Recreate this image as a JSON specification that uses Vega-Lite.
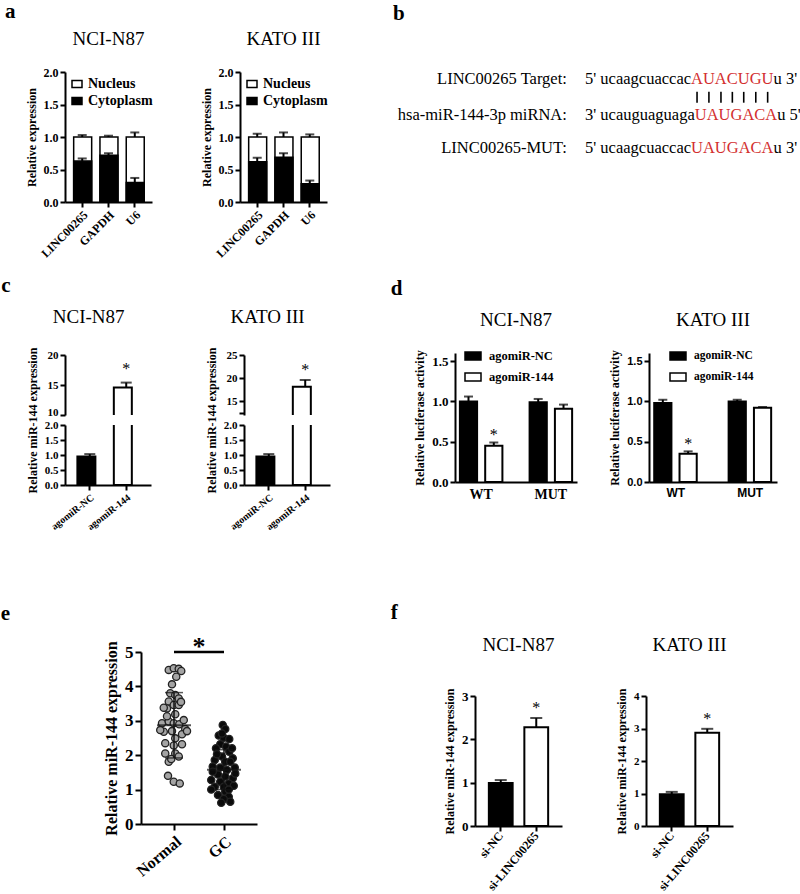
{
"$schema": "https://vega.github.io/schema/vega-lite/v6.json",
"background": "white",
"padding": {"left": 0, "top": 1, "right": 0, "bottom": 0},
"config": {
  "font": "Liberation Serif",
  "view": {"stroke": null},
  "axis": {"grid": false, "domainColor": "black", "domainWidth": 2, "tickColor": "black", "tickWidth": 2, "tickSize": 5, "labelColor": "black", "labelFont": "Liberation Serif", "labelFontWeight": "bold", "labelFontSize": 12, "titleColor": "black", "titleFont": "Liberation Serif", "titleFontWeight": "bold", "titleFontSize": 12, "labelPadding": 2, "titlePadding": 5, "labelOverlap": false},
  "title": {"font": "Liberation Serif", "fontWeight": "normal", "fontSize": 19, "color": "black", "anchor": "middle"},
  "legend": {"labelFont": "Liberation Serif", "labelFontWeight": "bold", "labelColor": "black"}
},
"spacing": 57,
"resolve": {"scale": {"color": "independent"}, "legend": {"color": "independent"}},
"hconcat": [
 {
  "spacing": 70,
  "resolve": {"scale": {"color": "independent"}, "legend": {"color": "independent"}},
  "vconcat": [
   {
    "spacing": 15,
    "resolve": {"scale": {"color": "independent"}, "legend": {"color": "independent"}},
    "vconcat": [
     {
      "title": {"text": "a", "anchor": "start", "frame": "bounds", "fontSize": 21, "fontWeight": "bold", "dx": -20, "offset": 8},
      "spacing": 47,
      "resolve": {"scale": {"color": "independent"}, "legend": {"color": "independent"}},
      "hconcat": [
       {
        "title": {"text": "NCI-N87", "offset": 17},
        "width": 87, "height": 130,
        "data": {"values": [
          {"gene": "LINC00265", "cyto": 0.63, "cyto_err": 0.67, "total": 1.0, "total_err": 1.03},
          {"gene": "GAPDH", "cyto": 0.72, "cyto_err": 0.75, "total": 1.0, "total_err": 1.02},
          {"gene": "U6", "cyto": 0.30, "cyto_err": 0.37, "total": 1.0, "total_err": 1.07}
        ]},
        "encoding": {"x": {"field": "gene", "type": "nominal", "sort": null, "scale": {"paddingInner": 0.35, "paddingOuter": 0.33}, "axis": {"title": null, "labelAngle": -45, "labelFontSize": 12}}},
        "layer": [
          {"mark": {"type": "bar", "stroke": "black", "strokeWidth": 1.5}, "encoding": {"y": {"field": "total", "type": "quantitative", "scale": {"domain": [0, 2]}, "axis": {"title": "Relative expression", "values": [0, 0.5, 1, 1.5, 2], "format": ".1f"}}, "color": {"datum": "Nucleus", "scale": {"domain": ["Nucleus", "Cytoplasm"], "range": ["white", "black"]}, "legend": {"orient": "top-left", "offset": 5, "title": null, "symbolType": "M-1,-0.7H1V0.7H-1Z", "symbolSize": 100, "labelFontSize": 14, "labelOffset": 4, "symbolStrokeColor": "black", "symbolStrokeWidth": 1.5, "rowPadding": 3}}}},
          {"mark": {"type": "rule", "color": "black", "strokeWidth": 2}, "encoding": {"y": {"field": "total", "type": "quantitative", "axis": {"title": "Relative expression", "values": [0, 0.5, 1, 1.5, 2], "format": ".1f"}}, "y2": {"field": "total_err"}}},
          {"mark": {"type": "tick", "color": "black", "thickness": 2, "size": 9}, "encoding": {"y": {"field": "total_err", "type": "quantitative", "axis": {"title": "Relative expression", "values": [0, 0.5, 1, 1.5, 2], "format": ".1f"}}}},
          {"mark": {"type": "bar", "stroke": "black", "strokeWidth": 1.5}, "encoding": {"y": {"field": "cyto", "type": "quantitative", "axis": {"title": "Relative expression", "values": [0, 0.5, 1, 1.5, 2], "format": ".1f"}}, "color": {"datum": "Cytoplasm"}}},
          {"mark": {"type": "rule", "color": "black", "strokeWidth": 2}, "encoding": {"y": {"field": "cyto", "type": "quantitative", "axis": {"title": "Relative expression", "values": [0, 0.5, 1, 1.5, 2], "format": ".1f"}}, "y2": {"field": "cyto_err"}}},
          {"mark": {"type": "tick", "color": "black", "thickness": 2, "size": 9}, "encoding": {"y": {"field": "cyto_err", "type": "quantitative", "axis": {"title": "Relative expression", "values": [0, 0.5, 1, 1.5, 2], "format": ".1f"}}}}
        ]
       },
       {
        "title": {"text": "KATO III", "offset": 17},
        "width": 87, "height": 130,
        "data": {"values": [
          {"gene": "LINC00265", "cyto": 0.62, "cyto_err": 0.68, "total": 1.0, "total_err": 1.05},
          {"gene": "GAPDH", "cyto": 0.69, "cyto_err": 0.75, "total": 1.0, "total_err": 1.07},
          {"gene": "U6", "cyto": 0.28, "cyto_err": 0.33, "total": 1.0, "total_err": 1.04}
        ]},
        "encoding": {"x": {"field": "gene", "type": "nominal", "sort": null, "scale": {"paddingInner": 0.35, "paddingOuter": 0.33}, "axis": {"title": null, "labelAngle": -45, "labelFontSize": 12}}},
        "layer": [
          {"mark": {"type": "bar", "stroke": "black", "strokeWidth": 1.5}, "encoding": {"y": {"field": "total", "type": "quantitative", "scale": {"domain": [0, 2]}, "axis": {"title": "Relative expression", "values": [0, 0.5, 1, 1.5, 2], "format": ".1f"}}, "color": {"datum": "Nucleus", "scale": {"domain": ["Nucleus", "Cytoplasm"], "range": ["white", "black"]}, "legend": {"orient": "top-left", "offset": 5, "title": null, "symbolType": "M-1,-0.7H1V0.7H-1Z", "symbolSize": 100, "labelFontSize": 14, "labelOffset": 4, "symbolStrokeColor": "black", "symbolStrokeWidth": 1.5, "rowPadding": 3}}}},
          {"mark": {"type": "rule", "color": "black", "strokeWidth": 2}, "encoding": {"y": {"field": "total", "type": "quantitative", "axis": {"title": "Relative expression", "values": [0, 0.5, 1, 1.5, 2], "format": ".1f"}}, "y2": {"field": "total_err"}}},
          {"mark": {"type": "tick", "color": "black", "thickness": 2, "size": 9}, "encoding": {"y": {"field": "total_err", "type": "quantitative", "axis": {"title": "Relative expression", "values": [0, 0.5, 1, 1.5, 2], "format": ".1f"}}}},
          {"mark": {"type": "bar", "stroke": "black", "strokeWidth": 1.5}, "encoding": {"y": {"field": "cyto", "type": "quantitative", "axis": {"title": "Relative expression", "values": [0, 0.5, 1, 1.5, 2], "format": ".1f"}}, "color": {"datum": "Cytoplasm"}}},
          {"mark": {"type": "rule", "color": "black", "strokeWidth": 2}, "encoding": {"y": {"field": "cyto", "type": "quantitative", "axis": {"title": "Relative expression", "values": [0, 0.5, 1, 1.5, 2], "format": ".1f"}}, "y2": {"field": "cyto_err"}}},
          {"mark": {"type": "tick", "color": "black", "thickness": 2, "size": 9}, "encoding": {"y": {"field": "cyto_err", "type": "quantitative", "axis": {"title": "Relative expression", "values": [0, 0.5, 1, 1.5, 2], "format": ".1f"}}}}
        ]
       }
      ]
     },
     {
      "title": {"text": "c", "anchor": "start", "frame": "bounds", "fontSize": 21, "fontWeight": "bold", "dx": -25, "offset": 12},
      "spacing": 54,
      "resolve": {"scale": {"color": "independent"}, "legend": {"color": "independent"}},
      "hconcat": [
       {
        "title": {"text": "NCI-N87", "offset": 20},
        "spacing": 10,
        "bounds": "flush",
        "resolve": {"scale": {"color": "independent"}, "legend": {"color": "independent"}},
        "vconcat": [
         {
          "width": 86, "height": 60,
          "data": {"values": [{"grp": "agomiR-NC", "v": 0.95, "e": 1.03}, {"grp": "agomiR-144", "v": 14.6, "e": 15.4}]},
          "encoding": {"x": {"field": "grp", "type": "nominal", "sort": null, "scale": {"paddingInner": 0.32, "paddingOuter": 0.34}, "axis": null}},
          "layer": [
            {"mark": {"type": "bar", "clip": true, "stroke": "black", "strokeWidth": 2}, "encoding": {"y": {"field": "v", "type": "quantitative", "scale": {"domain": [10, 20]}, "axis": {"title": null, "values": [10, 15, 20], "labelFontSize": 11, "labelBaseline": {"condition": {"test": "datum.value == 10", "value": "alphabetic"}, "value": "middle"}}}, "color": {"field": "grp", "type": "nominal", "scale": {"domain": ["agomiR-NC", "agomiR-144"], "range": ["black", "white"]}, "legend": null}}},
            {"mark": {"type": "rule", "clip": true, "strokeWidth": 2, "color": "black"}, "encoding": {"y": {"field": "v", "type": "quantitative", "axis": {"title": null, "values": [10, 15, 20], "labelFontSize": 11, "labelBaseline": {"condition": {"test": "datum.value == 10", "value": "alphabetic"}, "value": "middle"}}}, "y2": {"field": "e"}}},
            {"mark": {"type": "tick", "clip": true, "thickness": 2, "size": 11, "color": "black"}, "encoding": {"y": {"field": "e", "type": "quantitative", "axis": {"title": null, "values": [10, 15, 20], "labelFontSize": 11, "labelBaseline": {"condition": {"test": "datum.value == 10", "value": "alphabetic"}, "value": "middle"}}}}},
            {"data": {"values": [{"grp": "agomiR-144", "s": 17.6, "star": "*"}]}, "mark": {"type": "text", "fontSize": 16, "baseline": "middle", "color": "black"}, "encoding": {"y": {"field": "s", "type": "quantitative", "axis": {"title": null, "values": [10, 15, 20], "labelFontSize": 11, "labelBaseline": {"condition": {"test": "datum.value == 10", "value": "alphabetic"}, "value": "middle"}}}, "text": {"field": "star"}}}
          ]
         },
         {
          "width": 86, "height": 60,
          "data": {"values": [{"grp": "agomiR-NC", "v": 0.95, "e": 1.03}, {"grp": "agomiR-144", "v": 14.6, "e": 15.4}]},
          "encoding": {"x": {"field": "grp", "type": "nominal", "sort": null, "scale": {"paddingInner": 0.32, "paddingOuter": 0.34}, "axis": {"title": null, "labelAngle": -38, "labelFontSize": 10}}},
          "layer": [
            {"mark": {"type": "bar", "clip": true, "stroke": "black", "strokeWidth": 2}, "encoding": {"y": {"field": "v", "type": "quantitative", "scale": {"domain": [0, 2]}, "axis": {"title": "Relative miR-144 expression", "titleY": -5, "values": [0, 0.5, 1, 1.5, 2], "format": ".1f", "labelFontSize": 11}}, "color": {"field": "grp", "type": "nominal", "scale": {"domain": ["agomiR-NC", "agomiR-144"], "range": ["black", "white"]}, "legend": null}}},
            {"mark": {"type": "rule", "clip": true, "strokeWidth": 2, "color": "black"}, "encoding": {"y": {"field": "v", "type": "quantitative", "axis": {"title": "Relative miR-144 expression", "titleY": -5, "values": [0, 0.5, 1, 1.5, 2], "format": ".1f", "labelFontSize": 11}}, "y2": {"field": "e"}}},
            {"mark": {"type": "tick", "clip": true, "thickness": 2, "size": 11, "color": "black"}, "encoding": {"y": {"field": "e", "type": "quantitative", "axis": {"title": "Relative miR-144 expression", "titleY": -5, "values": [0, 0.5, 1, 1.5, 2], "format": ".1f", "labelFontSize": 11}}}}
          ]
         }
        ]
       },
       {
        "title": {"text": "KATO III", "offset": 20},
        "spacing": 10,
        "bounds": "flush",
        "resolve": {"scale": {"color": "independent"}, "legend": {"color": "independent"}},
        "vconcat": [
         {
          "width": 86, "height": 60,
          "data": {"values": [{"grp": "agomiR-NC", "v": 0.95, "e": 1.03}, {"grp": "agomiR-144", "v": 18.1, "e": 19.6}]},
          "encoding": {"x": {"field": "grp", "type": "nominal", "sort": null, "scale": {"paddingInner": 0.32, "paddingOuter": 0.34}, "axis": null}},
          "layer": [
            {"mark": {"type": "bar", "clip": true, "stroke": "black", "strokeWidth": 2}, "encoding": {"y": {"field": "v", "type": "quantitative", "scale": {"domain": [12.5, 25]}, "axis": {"title": null, "values": [12.5, 15, 20, 25], "labelExpr": "datum.value == 12.5 ? '' : datum.label", "labelFontSize": 11}}, "color": {"field": "grp", "type": "nominal", "scale": {"domain": ["agomiR-NC", "agomiR-144"], "range": ["black", "white"]}, "legend": null}}},
            {"mark": {"type": "rule", "clip": true, "strokeWidth": 2, "color": "black"}, "encoding": {"y": {"field": "v", "type": "quantitative", "axis": {"title": null, "values": [12.5, 15, 20, 25], "labelExpr": "datum.value == 12.5 ? '' : datum.label", "labelFontSize": 11}}, "y2": {"field": "e"}}},
            {"mark": {"type": "tick", "clip": true, "thickness": 2, "size": 11, "color": "black"}, "encoding": {"y": {"field": "e", "type": "quantitative", "axis": {"title": null, "values": [12.5, 15, 20, 25], "labelExpr": "datum.value == 12.5 ? '' : datum.label", "labelFontSize": 11}}}},
            {"data": {"values": [{"grp": "agomiR-144", "s": 21.8, "star": "*"}]}, "mark": {"type": "text", "fontSize": 16, "baseline": "middle", "color": "black"}, "encoding": {"y": {"field": "s", "type": "quantitative", "axis": {"title": null, "values": [12.5, 15, 20, 25], "labelExpr": "datum.value == 12.5 ? '' : datum.label", "labelFontSize": 11}}, "text": {"field": "star"}}}
          ]
         },
         {
          "width": 86, "height": 60,
          "data": {"values": [{"grp": "agomiR-NC", "v": 0.95, "e": 1.03}, {"grp": "agomiR-144", "v": 18.1, "e": 19.6}]},
          "encoding": {"x": {"field": "grp", "type": "nominal", "sort": null, "scale": {"paddingInner": 0.32, "paddingOuter": 0.34}, "axis": {"title": null, "labelAngle": -38, "labelFontSize": 10}}},
          "layer": [
            {"mark": {"type": "bar", "clip": true, "stroke": "black", "strokeWidth": 2}, "encoding": {"y": {"field": "v", "type": "quantitative", "scale": {"domain": [0, 2]}, "axis": {"title": "Relative miR-144 expression", "titleY": -5, "values": [0, 0.5, 1, 1.5, 2], "format": ".1f", "labelFontSize": 11}}, "color": {"field": "grp", "type": "nominal", "scale": {"domain": ["agomiR-NC", "agomiR-144"], "range": ["black", "white"]}, "legend": null}}},
            {"mark": {"type": "rule", "clip": true, "strokeWidth": 2, "color": "black"}, "encoding": {"y": {"field": "v", "type": "quantitative", "axis": {"title": "Relative miR-144 expression", "titleY": -5, "values": [0, 0.5, 1, 1.5, 2], "format": ".1f", "labelFontSize": 11}}, "y2": {"field": "e"}}},
            {"mark": {"type": "tick", "clip": true, "thickness": 2, "size": 11, "color": "black"}, "encoding": {"y": {"field": "e", "type": "quantitative", "axis": {"title": "Relative miR-144 expression", "titleY": -5, "values": [0, 0.5, 1, 1.5, 2], "format": ".1f", "labelFontSize": 11}}}}
          ]
         }
        ]
       }
      ]
     }
    ]
   },
   {
    "title": {"text": "e", "anchor": "start", "frame": "bounds", "fontSize": 21, "fontWeight": "bold", "dx": -62, "offset": 10},
    "spacing": 34,
    "resolve": {"scale": {"color": "independent"}, "legend": {"color": "independent"}},
    "hconcat": [
     {"width": 1, "height": 1, "data": {"values": [{"k": 0}]}, "mark": {"type": "point", "opacity": 0}},
     {
      "width": 116, "height": 172,
      "layer": [
        {
         "data": {"values": [
          {"group": "Normal", "jitter": -0.21, "value": 4.48}, {"group": "Normal", "jitter": -0.01, "value": 4.53}, {"group": "Normal", "jitter": 0.19, "value": 4.51}, {"group": "Normal", "jitter": 0.29, "value": 4.45},
          {"group": "Normal", "jitter": 0.09, "value": 4.28}, {"group": "Normal", "jitter": -0.08, "value": 4.06}, {"group": "Normal", "jitter": -0.15, "value": 3.80}, {"group": "Normal", "jitter": 0.05, "value": 3.75},
          {"group": "Normal", "jitter": 0.19, "value": 3.65}, {"group": "Normal", "jitter": -0.21, "value": 3.56}, {"group": "Normal", "jitter": -0.01, "value": 3.46}, {"group": "Normal", "jitter": 0.19, "value": 3.46},
          {"group": "Normal", "jitter": -0.28, "value": 3.36}, {"group": "Normal", "jitter": -0.41, "value": 3.38}, {"group": "Normal", "jitter": 0.05, "value": 3.19}, {"group": "Normal", "jitter": -0.48, "value": 2.93},
          {"group": "Normal", "jitter": -0.21, "value": 2.98}, {"group": "Normal", "jitter": -0.01, "value": 2.93}, {"group": "Normal", "jitter": 0.21, "value": 2.90}, {"group": "Normal", "jitter": 0.45, "value": 2.76},
          {"group": "Normal", "jitter": -0.41, "value": 2.68}, {"group": "Normal", "jitter": -0.08, "value": 2.70}, {"group": "Normal", "jitter": 0.32, "value": 2.61}, {"group": "Normal", "jitter": 0.05, "value": 2.49},
          {"group": "Normal", "jitter": -0.35, "value": 2.35}, {"group": "Normal", "jitter": -0.01, "value": 2.28}, {"group": "Normal", "jitter": 0.32, "value": 2.32}, {"group": "Normal", "jitter": 0.05, "value": 2.05},
          {"group": "Normal", "jitter": 0.19, "value": 1.96}, {"group": "Normal", "jitter": -0.21, "value": 1.81}, {"group": "Normal", "jitter": -0.11, "value": 1.89}, {"group": "Normal", "jitter": -0.24, "value": 1.40},
          {"group": "Normal", "jitter": -0.01, "value": 1.23}, {"group": "Normal", "jitter": 0.23, "value": 1.18}, {"group": "Normal", "jitter": -0.55, "value": 2.73}, {"group": "Normal", "jitter": 0.52, "value": 2.70},
          {"group": "Normal", "jitter": -0.28, "value": 3.13}, {"group": "Normal", "jitter": 0.39, "value": 3.02}, {"group": "Normal", "jitter": 0.28, "value": 3.55}, {"group": "Normal", "jitter": -0.35, "value": 2.05},
          {"group": "GC", "jitter": -0.05, "value": 2.88}, {"group": "GC", "jitter": 0.05, "value": 2.76}, {"group": "GC", "jitter": -0.21, "value": 2.57}, {"group": "GC", "jitter": -0.01, "value": 2.51},
          {"group": "GC", "jitter": 0.21, "value": 2.47}, {"group": "GC", "jitter": -0.15, "value": 2.32}, {"group": "GC", "jitter": 0.08, "value": 2.25}, {"group": "GC", "jitter": -0.32, "value": 2.20},
          {"group": "GC", "jitter": 0.21, "value": 2.10}, {"group": "GC", "jitter": -0.08, "value": 1.96}, {"group": "GC", "jitter": 0.35, "value": 1.91}, {"group": "GC", "jitter": -0.37, "value": 1.86},
          {"group": "GC", "jitter": 0.05, "value": 1.81}, {"group": "GC", "jitter": -0.45, "value": 1.67}, {"group": "GC", "jitter": -0.15, "value": 1.64}, {"group": "GC", "jitter": 0.12, "value": 1.57},
          {"group": "GC", "jitter": 0.43, "value": 1.64}, {"group": "GC", "jitter": -0.24, "value": 1.44}, {"group": "GC", "jitter": 0.05, "value": 1.38}, {"group": "GC", "jitter": -0.51, "value": 1.28},
          {"group": "GC", "jitter": 0.35, "value": 1.33}, {"group": "GC", "jitter": -0.15, "value": 1.23}, {"group": "GC", "jitter": 0.19, "value": 1.18}, {"group": "GC", "jitter": -0.37, "value": 1.08},
          {"group": "GC", "jitter": -0.01, "value": 1.08}, {"group": "GC", "jitter": 0.39, "value": 1.11}, {"group": "GC", "jitter": -0.51, "value": 1.00}, {"group": "GC", "jitter": 0.05, "value": 0.94},
          {"group": "GC", "jitter": -0.24, "value": 0.84}, {"group": "GC", "jitter": 0.19, "value": 0.79}, {"group": "GC", "jitter": 0.25, "value": 0.65}, {"group": "GC", "jitter": -0.01, "value": 0.73},
          {"group": "GC", "jitter": 0.45, "value": 1.47}, {"group": "GC", "jitter": -0.45, "value": 1.52}, {"group": "GC", "jitter": 0.25, "value": 1.81}, {"group": "GC", "jitter": -0.28, "value": 2.03},
          {"group": "GC", "jitter": 0.32, "value": 2.20}, {"group": "GC", "jitter": -0.08, "value": 2.63}, {"group": "GC", "jitter": 0.19, "value": 1.00}, {"group": "GC", "jitter": -0.11, "value": 0.62}
         ]},
         "mark": {"type": "point", "filled": true, "size": 52, "stroke": "#222222", "strokeWidth": 1.3, "opacity": 1},
         "encoding": {
           "x": {"field": "group", "type": "nominal", "sort": ["Normal", "GC"], "scale": {"paddingInner": 0, "paddingOuter": 0.16}, "axis": {"title": null, "labelAngle": -40, "labelFontSize": 16, "tickSize": 6, "labelPadding": 3}},
           "xOffset": {"field": "jitter", "type": "quantitative", "scale": {"domain": [-1, 1]}},
           "y": {"field": "value", "type": "quantitative", "scale": {"domain": [0, 5]}, "axis": {"title": "Relative miR-144 expression", "titleFontSize": 16, "labelFontSize": 17, "values": [0, 1, 2, 3, 4, 5], "format": "d", "tickSize": 6}},
           "fill": {"field": "group", "type": "nominal", "scale": {"domain": ["Normal", "GC"], "range": ["#a4a4a4", "#0a0a0a"]}, "legend": null}
         }
        },
        {
         "data": {"values": [{"group": "Normal", "mean": 2.87, "lo": 1.92, "hi": 3.82}, {"group": "GC", "mean": 1.58, "lo": 1.0, "hi": 2.16}]},
         "layer": [
           {"mark": {"type": "rule", "color": "#111111", "strokeWidth": 1.5}, "encoding": {"x": {"field": "group", "type": "nominal", "sort": ["Normal", "GC"]}, "y": {"field": "lo", "type": "quantitative", "axis": {"title": "Relative miR-144 expression", "titleFontSize": 16, "labelFontSize": 17, "values": [0, 1, 2, 3, 4, 5], "format": "d", "tickSize": 6}}, "y2": {"field": "hi"}}},
           {"mark": {"type": "tick", "color": "#111111", "thickness": 2, "size": 34}, "encoding": {"x": {"field": "group", "type": "nominal", "sort": ["Normal", "GC"]}, "y": {"field": "mean", "type": "quantitative", "axis": {"title": "Relative miR-144 expression", "titleFontSize": 16, "labelFontSize": 17, "values": [0, 1, 2, 3, 4, 5], "format": "d", "tickSize": 6}}}},
           {"mark": {"type": "tick", "color": "#111111", "thickness": 1.5, "size": 18}, "encoding": {"x": {"field": "group", "type": "nominal", "sort": ["Normal", "GC"]}, "y": {"field": "hi", "type": "quantitative", "axis": {"title": "Relative miR-144 expression", "titleFontSize": 16, "labelFontSize": 17, "values": [0, 1, 2, 3, 4, 5], "format": "d", "tickSize": 6}}}},
           {"mark": {"type": "tick", "color": "#111111", "thickness": 1.5, "size": 18}, "encoding": {"x": {"field": "group", "type": "nominal", "sort": ["Normal", "GC"]}, "y": {"field": "lo", "type": "quantitative", "axis": {"title": "Relative miR-144 expression", "titleFontSize": 16, "labelFontSize": 17, "values": [0, 1, 2, 3, 4, 5], "format": "d", "tickSize": 6}}}}
         ]
        },
        {
         "data": {"values": [{"group": "Normal", "y": 5.0}, {"group": "GC", "y": 5.0}]},
         "mark": {"type": "line", "color": "black", "strokeWidth": 2.5},
         "encoding": {"x": {"field": "group", "type": "nominal", "sort": ["Normal", "GC"]}, "y": {"field": "y", "type": "quantitative", "axis": {"title": "Relative miR-144 expression", "titleFontSize": 16, "labelFontSize": 17, "values": [0, 1, 2, 3, 4, 5], "format": "d", "tickSize": 6}}}
        },
        {
         "data": {"values": [{"group": "Normal", "y": 5.15, "star": "*"}]},
         "mark": {"type": "text", "fontSize": 26, "fontWeight": "bold", "baseline": "middle", "dx": 25, "color": "black"},
         "encoding": {"x": {"field": "group", "type": "nominal", "sort": ["Normal", "GC"]}, "y": {"field": "y", "type": "quantitative", "axis": {"title": "Relative miR-144 expression", "titleFontSize": 16, "labelFontSize": 17, "values": [0, 1, 2, 3, 4, 5], "format": "d", "tickSize": 6}}, "text": {"field": "star"}}
        }
      ]
     }
    ]
   }
  ]
 },
 {
  "spacing": 101,
  "resolve": {"scale": {"color": "independent"}, "legend": {"color": "independent"}},
  "vconcat": [
   {
    "spacing": 76,
    "resolve": {"scale": {"color": "independent"}, "legend": {"color": "independent"}},
    "vconcat": [
     {
      "title": {"text": "b", "anchor": "start", "frame": "bounds", "fontSize": 21, "fontWeight": "bold", "dx": 3, "offset": 47},
      "resolve": {"scale": {"color": "independent"}, "legend": {"color": "independent"}},
      "vconcat": [
       {
        "width": 409, "height": 130,
        "layer": [
          {"data": {"values": [{"row": 0.19, "t": "LINC00265 Target:"}, {"row": 1.19, "t": "hsa-miR-144-3p miRNA:"}, {"row": 2.1, "t": "LINC00265-MUT:"}]},
           "mark": {"type": "text", "align": "right", "baseline": "middle", "fontSize": 16.5, "color": "black"},
           "encoding": {"x": {"datum": -1.1, "type": "quantitative", "scale": {"domain": [-11.82, 12.97], "nice": false, "zero": false}, "axis": null}, "y": {"field": "row", "type": "quantitative", "scale": {"domain": [0, 3.6], "nice": false, "reverse": true}, "axis": null}, "text": {"field": "t"}}},
          {"data": {"values": [{"row": 0.19, "t": "5' ucaagcuaccac"}, {"row": 1.19, "t": "3' ucauguaguaga"}, {"row": 2.1, "t": "5' ucaagcuaccac"}]},
           "mark": {"type": "text", "align": "left", "baseline": "middle", "fontSize": 16.5, "color": "black"},
           "encoding": {"x": {"datum": 0, "type": "quantitative"}, "y": {"field": "row", "type": "quantitative"}, "text": {"field": "t"}}},
          {"data": {"values": [{"row": 0.19, "t": "AUACUGU"}, {"row": 2.1, "t": "UAUGACA"}]},
           "mark": {"type": "text", "align": "left", "baseline": "middle", "fontSize": 16.5, "color": "#d32f2f"},
           "encoding": {"x": {"datum": 6.426, "type": "quantitative"}, "y": {"field": "row", "type": "quantitative"}, "text": {"field": "t"}}},
          {"data": {"values": [{"row": 1.19, "t": "UAUGACA"}]},
           "mark": {"type": "text", "align": "left", "baseline": "middle", "fontSize": 16.5, "color": "#d32f2f"},
           "encoding": {"x": {"datum": 6.65, "type": "quantitative"}, "y": {"field": "row", "type": "quantitative"}, "text": {"field": "t"}}},
          {"data": {"values": [{"row": 0.19, "t": "u 3'"}, {"row": 2.1, "t": "u 3'"}]},
           "mark": {"type": "text", "align": "left", "baseline": "middle", "fontSize": 16.5, "color": "black"},
           "encoding": {"x": {"datum": 11.425, "type": "quantitative"}, "y": {"field": "row", "type": "quantitative"}, "text": {"field": "t"}}},
          {"data": {"values": [{"row": 1.19, "t": "u 5'"}]},
           "mark": {"type": "text", "align": "left", "baseline": "middle", "fontSize": 16.5, "color": "black"},
           "encoding": {"x": {"datum": 11.649, "type": "quantitative"}, "y": {"field": "row", "type": "quantitative"}, "text": {"field": "t"}}},
          {"data": {"values": [{"pos": 6.79}, {"pos": 7.51}, {"pos": 8.24}, {"pos": 8.93}, {"pos": 9.62}, {"pos": 10.35}, {"pos": 11.07}]},
           "mark": {"type": "rule", "color": "black", "strokeWidth": 1.6},
           "encoding": {"x": {"field": "pos", "type": "quantitative"}, "y": {"datum": 0.55, "type": "quantitative"}, "y2": {"datum": 0.85}}}
        ]
       }
      ]
     },
     {
      "title": {"text": "d", "anchor": "start", "frame": "bounds", "fontSize": 21, "fontWeight": "bold", "dx": 3, "offset": 12},
      "spacing": 19,
      "resolve": {"scale": {"color": "independent"}, "legend": {"color": "independent"}},
      "hconcat": [
       {"width": 1, "height": 1, "data": {"values": [{"k": 0}]}, "mark": {"type": "point", "opacity": 0}},
       {
        "spacing": 31,
        "resolve": {"scale": {"color": "independent"}, "legend": {"color": "independent"}},
        "hconcat": [
         {
          "title": {"text": "NCI-N87", "offset": 17},
          "width": 122, "height": 129,
          "data": {"values": [
            {"site": "WT", "grp": "agomiR-NC", "v": 1.0, "e": 1.06},
            {"site": "WT", "grp": "agomiR-144", "v": 0.45, "e": 0.49},
            {"site": "MUT", "grp": "agomiR-NC", "v": 0.99, "e": 1.03},
            {"site": "MUT", "grp": "agomiR-144", "v": 0.91, "e": 0.96}
          ]},
          "encoding": {
            "x": {"field": "site", "type": "nominal", "sort": ["WT", "MUT"], "scale": {"paddingInner": 0.39, "paddingOuter": 0.07}, "axis": {"title": null, "labelAngle": 0, "labelFontSize": 14, "ticks": false, "labelPadding": 5}},
            "xOffset": {"field": "grp", "type": "nominal", "sort": ["agomiR-NC", "agomiR-144"], "scale": {"paddingInner": 0.32}}
          },
          "layer": [
            {"mark": {"type": "bar", "stroke": "black", "strokeWidth": 2}, "encoding": {"y": {"field": "v", "type": "quantitative", "scale": {"domain": [0, 1.5]}, "axis": {"title": "Relative luciferase activity", "values": [0, 0.5, 1, 1.5], "format": ".1f", "labelFontSize": 13}}, "color": {"field": "grp", "type": "nominal", "scale": {"domain": ["agomiR-NC", "agomiR-144"], "range": ["black", "white"]}, "legend": {"orient": "none", "legendX": 9, "legendY": -6, "title": null, "symbolType": "M-1,-0.5H1V0.5H-1Z", "symbolSize": 256, "labelFontSize": 12.5, "labelOffset": 7, "symbolStrokeColor": "black", "symbolStrokeWidth": 1.5, "rowPadding": 5}}}},
            {"mark": {"type": "rule", "strokeWidth": 2, "color": "black"}, "encoding": {"y": {"field": "v", "type": "quantitative", "axis": {"title": "Relative luciferase activity", "values": [0, 0.5, 1, 1.5], "format": ".1f", "labelFontSize": 13}}, "y2": {"field": "e"}}},
            {"mark": {"type": "tick", "thickness": 2, "size": 9, "color": "black"}, "encoding": {"y": {"field": "e", "type": "quantitative", "axis": {"title": "Relative luciferase activity", "values": [0, 0.5, 1, 1.5], "format": ".1f", "labelFontSize": 13}}}},
            {"data": {"values": [{"site": "WT", "grp": "agomiR-144", "s": 0.58, "star": "*"}]}, "mark": {"type": "text", "fontSize": 16, "baseline": "middle", "color": "black"}, "encoding": {"y": {"field": "s", "type": "quantitative", "axis": {"title": "Relative luciferase activity", "values": [0, 0.5, 1, 1.5], "format": ".1f", "labelFontSize": 13}}, "text": {"field": "star"}}}
          ]
         },
         {
          "title": {"text": "KATO III", "offset": 17},
          "width": 128, "height": 129,
          "data": {"values": [
            {"site": "WT", "grp": "agomiR-NC", "v": 0.98, "e": 1.02},
            {"site": "WT", "grp": "agomiR-144", "v": 0.35, "e": 0.38},
            {"site": "MUT", "grp": "agomiR-NC", "v": 1.0, "e": 1.02},
            {"site": "MUT", "grp": "agomiR-144", "v": 0.92, "e": 0.93}
          ]},
          "encoding": {
            "x": {"field": "site", "type": "nominal", "sort": ["WT", "MUT"], "scale": {"paddingInner": 0.42, "paddingOuter": 0.07}, "axis": {"title": null, "labelAngle": 0, "labelFontSize": 12, "labelFont": "Liberation Sans", "ticks": false, "labelPadding": 5}},
            "xOffset": {"field": "grp", "type": "nominal", "sort": ["agomiR-NC", "agomiR-144"], "scale": {"paddingInner": 0.32}}
          },
          "layer": [
            {"mark": {"type": "bar", "stroke": "black", "strokeWidth": 2}, "encoding": {"y": {"field": "v", "type": "quantitative", "scale": {"domain": [0, 1.5]}, "axis": {"title": "Relative luciferase activity", "values": [0, 0.5, 1, 1.5], "format": ".1f", "labelFontSize": 11, "labelFont": "Liberation Sans"}}, "color": {"field": "grp", "type": "nominal", "scale": {"domain": ["agomiR-NC", "agomiR-144"], "range": ["black", "white"]}, "legend": {"orient": "none", "legendX": 20, "legendY": -6, "title": null, "symbolType": "M-1,-0.5H1V0.5H-1Z", "symbolSize": 256, "labelFontSize": 11.5, "labelOffset": 7, "symbolStrokeColor": "black", "symbolStrokeWidth": 1.5, "rowPadding": 5}}}},
            {"mark": {"type": "rule", "strokeWidth": 2, "color": "black"}, "encoding": {"y": {"field": "v", "type": "quantitative", "axis": {"title": "Relative luciferase activity", "values": [0, 0.5, 1, 1.5], "format": ".1f", "labelFontSize": 11, "labelFont": "Liberation Sans"}}, "y2": {"field": "e"}}},
            {"mark": {"type": "tick", "thickness": 2, "size": 9, "color": "black"}, "encoding": {"y": {"field": "e", "type": "quantitative", "axis": {"title": "Relative luciferase activity", "values": [0, 0.5, 1, 1.5], "format": ".1f", "labelFontSize": 11, "labelFont": "Liberation Sans"}}}},
            {"data": {"values": [{"site": "WT", "grp": "agomiR-144", "s": 0.47, "star": "*"}]}, "mark": {"type": "text", "fontSize": 16, "baseline": "middle", "color": "black"}, "encoding": {"y": {"field": "s", "type": "quantitative", "axis": {"title": "Relative luciferase activity", "values": [0, 0.5, 1, 1.5], "format": ".1f", "labelFontSize": 11, "labelFont": "Liberation Sans"}}, "text": {"field": "star"}}}
          ]
         }
        ]
       }
      ]
     }
    ]
   },
   {
    "title": {"text": "f", "anchor": "start", "frame": "bounds", "fontSize": 21, "fontWeight": "bold", "dx": 3, "offset": 13},
    "spacing": 49,
    "resolve": {"scale": {"color": "independent"}, "legend": {"color": "independent"}},
    "hconcat": [
     {"width": 1, "height": 1, "data": {"values": [{"k": 0}]}, "mark": {"type": "point", "opacity": 0}},
     {
      "spacing": 53,
      "resolve": {"scale": {"color": "independent"}, "legend": {"color": "independent"}},
      "hconcat": [
       {
        "title": {"text": "NCI-N87", "offset": 33},
        "width": 87, "height": 130,
        "data": {"values": [{"grp": "si-NC", "v": 0.99, "e": 1.06}, {"grp": "si-LINC00265", "v": 2.28, "e": 2.49}]},
        "encoding": {"x": {"field": "grp", "type": "nominal", "sort": null, "scale": {"paddingInner": 0.33, "paddingOuter": 0.39}, "axis": {"title": null, "labelAngle": -50, "labelFontSize": 12}}},
        "layer": [
          {"mark": {"type": "bar", "stroke": "black", "strokeWidth": 2}, "encoding": {"y": {"field": "v", "type": "quantitative", "scale": {"domain": [0, 3]}, "axis": {"title": "Relative miR-144 expression", "values": [0, 1, 2, 3], "format": "d", "labelFontSize": 13}}, "color": {"field": "grp", "type": "nominal", "scale": {"domain": ["si-NC", "si-LINC00265"], "range": ["black", "white"]}, "legend": null}}},
          {"mark": {"type": "rule", "strokeWidth": 2, "color": "black"}, "encoding": {"y": {"field": "v", "type": "quantitative", "axis": {"title": "Relative miR-144 expression", "values": [0, 1, 2, 3], "format": "d", "labelFontSize": 13}}, "y2": {"field": "e"}}},
          {"mark": {"type": "tick", "thickness": 2, "size": 12, "color": "black"}, "encoding": {"y": {"field": "e", "type": "quantitative", "axis": {"title": "Relative miR-144 expression", "values": [0, 1, 2, 3], "format": "d", "labelFontSize": 13}}}},
          {"data": {"values": [{"grp": "si-LINC00265", "s": 2.72, "star": "*"}]}, "mark": {"type": "text", "fontSize": 16, "baseline": "middle", "color": "black"}, "encoding": {"y": {"field": "s", "type": "quantitative", "axis": {"title": "Relative miR-144 expression", "values": [0, 1, 2, 3], "format": "d", "labelFontSize": 13}}, "text": {"field": "star"}}}
        ]
       },
       {
        "title": {"text": "KATO III", "offset": 33},
        "width": 87, "height": 130,
        "data": {"values": [{"grp": "si-NC", "v": 0.98, "e": 1.05}, {"grp": "si-LINC00265", "v": 2.87, "e": 2.99}]},
        "encoding": {"x": {"field": "grp", "type": "nominal", "sort": null, "scale": {"paddingInner": 0.33, "paddingOuter": 0.39}, "axis": {"title": null, "labelAngle": -50, "labelFontSize": 12}}},
        "layer": [
          {"mark": {"type": "bar", "stroke": "black", "strokeWidth": 2}, "encoding": {"y": {"field": "v", "type": "quantitative", "scale": {"domain": [0, 4]}, "axis": {"title": "Relative miR-144 expression", "values": [0, 1, 2, 3, 4], "format": "d", "labelFontSize": 11}}, "color": {"field": "grp", "type": "nominal", "scale": {"domain": ["si-NC", "si-LINC00265"], "range": ["black", "white"]}, "legend": null}}},
          {"mark": {"type": "rule", "strokeWidth": 2, "color": "black"}, "encoding": {"y": {"field": "v", "type": "quantitative", "axis": {"title": "Relative miR-144 expression", "values": [0, 1, 2, 3, 4], "format": "d", "labelFontSize": 11}}, "y2": {"field": "e"}}},
          {"mark": {"type": "tick", "thickness": 2, "size": 12, "color": "black"}, "encoding": {"y": {"field": "e", "type": "quantitative", "axis": {"title": "Relative miR-144 expression", "values": [0, 1, 2, 3, 4], "format": "d", "labelFontSize": 11}}}},
          {"data": {"values": [{"grp": "si-LINC00265", "s": 3.3, "star": "*"}]}, "mark": {"type": "text", "fontSize": 16, "baseline": "middle", "color": "black"}, "encoding": {"y": {"field": "s", "type": "quantitative", "axis": {"title": "Relative miR-144 expression", "values": [0, 1, 2, 3, 4], "format": "d", "labelFontSize": 11}}, "text": {"field": "star"}}}
        ]
       }
      ]
     }
    ]
   }
  ]
 }
]
}
